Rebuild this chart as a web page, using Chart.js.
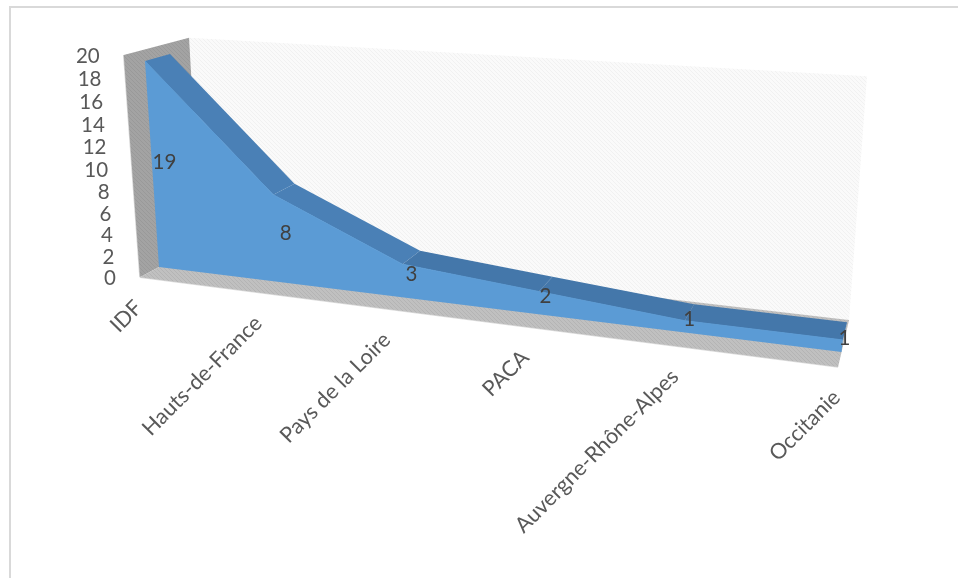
<!DOCTYPE html>
<html lang="fr">
<head>
<meta charset="utf-8">
<title>Régions</title>
<script src="https://cdn.jsdelivr.net/npm/chart.js@4/dist/chart.umd.min.js"></script>
<style>
  html, body { margin: 0; background: #fff; overflow: hidden; }
  #frame { position: absolute; left: 9px; top: 6px; right: 0; bottom: 0;
           border-top: 2px solid #d9d9d9; border-left: 2px solid #d9d9d9; }
  canvas { position: absolute; left: 0; top: 0; }
</style>
</head>
<body>
<div id="frame"></div>
<canvas id="chart" width="958" height="578"></canvas>
<script>
  'use strict';

  var regions = ['IDF', 'Hauts-de-France', 'Pays de la Loire', 'PACA', 'Auvergne-Rhône-Alpes', 'Occitanie'];
  var counts = [19, 8, 3, 2, 1, 1];
  var axisMax = 20;
  var axisStep = 2;

  var FONT = 'Lato, "Open Sans", sans-serif';

  // depth planes of the 3D box (0 = front of the area, 1 = back of the area)
  var DEPTH_FLOOR_FRONT = -0.77;
  var DEPTH_WALL_BACK = 1.83;

  // perspective camera: t along the categories, v in axis units, d in depth
  function camera(t, v, d) {
    var w = 1 - 0.167 * t - 0.0026 * v + 0.03 * d;
    return {
      x: (159 + 542 * t - 1.115 * v + 28.9 * d) / w,
      y: (267 + 26.3 * t - 11 * v - 5 * d) / w
    };
  }

  // goes through the chart's own scales, then the camera
  function project(chart, index, value, depth) {
    var xs = chart.scales.x;
    var ys = chart.scales.y;
    var t = (xs.getPixelForValue(index) - xs.left) / xs.width;
    var v = (ys.bottom - ys.getPixelForValue(value)) / ys.height * ys.max;
    return camera(t, v, depth);
  }

  function polygon(ctx, pts, fill) {
    ctx.beginPath();
    pts.forEach(function (p, i) {
      if (i === 0) {
        ctx.moveTo(p.x, p.y);
      } else {
        ctx.lineTo(p.x, p.y);
      }
    });
    ctx.closePath();
    ctx.fillStyle = fill;
    ctx.fill();
  }

  function edge(ctx, a, b, color) {
    ctx.beginPath();
    ctx.moveTo(a.x, a.y);
    ctx.lineTo(b.x, b.y);
    ctx.strokeStyle = color;
    ctx.lineWidth = 1.5;
    ctx.stroke();
  }

  function hatch(ctx, base, line) {
    var c = document.createElement('canvas');
    c.width = 4;
    c.height = 4;
    var g = c.getContext('2d');
    g.fillStyle = base;
    g.fillRect(0, 0, 4, 4);
    g.strokeStyle = line;
    g.beginPath();
    g.moveTo(0, 0);
    g.lineTo(4, 4);
    g.stroke();
    return ctx.createPattern(c, 'repeat');
  }

  var area3d = {
    id: 'area3d',

    // the dataset points sit on the front plane of the box
    afterDatasetsUpdate: function (chart) {
      chart.getDatasetMeta(0).data.forEach(function (pt, i) {
        var p = project(chart, i, counts[i], 0);
        pt.x = p.x;
        pt.y = p.y;
      });
    },

    beforeDatasetsDraw: function (chart) {
      var ctx = chart.ctx;
      var last = regions.length - 1;
      var P = function (i, v, d) { return project(chart, i, v, d); };

      // back wall
      polygon(ctx, [P(0, 0, DEPTH_WALL_BACK), P(0, axisMax, DEPTH_WALL_BACK),
        P(last - 0.05, axisMax, DEPTH_WALL_BACK), P(last, 0, DEPTH_WALL_BACK)], hatch(ctx, '#fafafa', '#f1f1f1'));

      // left wall
      edge(ctx, P(0, 0, DEPTH_FLOOR_FRONT), P(0, axisMax, DEPTH_FLOOR_FRONT), '#d6d6d6');
      polygon(ctx, [P(0, 0, DEPTH_FLOOR_FRONT), P(0, axisMax, DEPTH_FLOOR_FRONT),
        P(0, axisMax, DEPTH_WALL_BACK), P(0, 0, DEPTH_WALL_BACK)], hatch(ctx, '#a3a3a3', '#999999'));

      // floor
      edge(ctx, P(0, 0, DEPTH_FLOOR_FRONT), P(last, 0, DEPTH_FLOOR_FRONT), '#dcdcdc');
      polygon(ctx, [P(0, 0, DEPTH_FLOOR_FRONT), P(0, 0, DEPTH_WALL_BACK),
        P(last, 0, DEPTH_WALL_BACK), P(last, 0, DEPTH_FLOOR_FRONT)], hatch(ctx, '#c0c0c0', '#b4b4b4'));

      // top of the area, one facet per segment
      for (var i = 0; i < last; i++) {
        polygon(ctx, [P(i, counts[i], 0), P(i, counts[i], 1),
          P(i + 1, counts[i + 1], 1), P(i + 1, counts[i + 1], 0)], i < 2 ? '#4A80B6' : '#4477AA');
      }

      // front of the area
      var front = [P(0, 0, 0)];
      counts.forEach(function (c, n) { front.push(P(n, c, 0)); });
      front.push(P(last, 0, 0));
      polygon(ctx, front, '#5B9BD5');
    },

    afterDatasetsDraw: function (chart) {
      var ctx = chart.ctx;
      ctx.save();

      // value labels, halfway up and halfway into the area
      ctx.font = '20.5px ' + FONT;
      ctx.fillStyle = '#404040';
      ctx.textAlign = 'center';
      ctx.textBaseline = 'middle';
      counts.forEach(function (c, i) {
        var p = project(chart, i, c / 2, 0.5);
        ctx.fillText(String(c), p.x, p.y + 1);
      });

      // value axis, following the front edge of the left wall
      ctx.fillStyle = '#595959';
      ctx.textAlign = 'right';
      chart.scales.y.ticks.forEach(function (tick) {
        var p = project(chart, 0, tick.value, DEPTH_FLOOR_FRONT);
        ctx.fillText(tick.label, p.x - 24, p.y + 1);
      });

      // category axis, following the front edge of the floor
      ctx.font = '21.6px ' + FONT;
      regions.forEach(function (name, i) {
        var p = project(chart, i, 0, DEPTH_FLOOR_FRONT);
        ctx.save();
        ctx.translate(p.x - 1.5, p.y + 27);
        ctx.rotate(-Math.PI / 4);
        ctx.fillText(name, 0, 0);
        ctx.restore();
      });

      ctx.restore();
    }
  };

  new Chart(document.getElementById('chart').getContext('2d'), {
    type: 'line',
    data: {
      labels: regions,
      datasets: [{
        data: counts,
        borderColor: '#5B9BD5',
        borderWidth: 1,
        pointRadius: 0,
        fill: false,
        clip: false
      }]
    },
    options: {
      responsive: false,
      animation: false,
      events: [],
      plugins: {
        legend: { display: false },
        tooltip: { enabled: false }
      },
      scales: {
        x: {
          grid: { display: false },
          border: { display: false },
          ticks: { display: false }
        },
        y: {
          min: 0,
          max: axisMax,
          grid: { display: false },
          border: { display: false },
          ticks: { display: false, stepSize: axisStep }
        }
      }
    },
    plugins: [area3d]
  });
</script>
</body>
</html>
